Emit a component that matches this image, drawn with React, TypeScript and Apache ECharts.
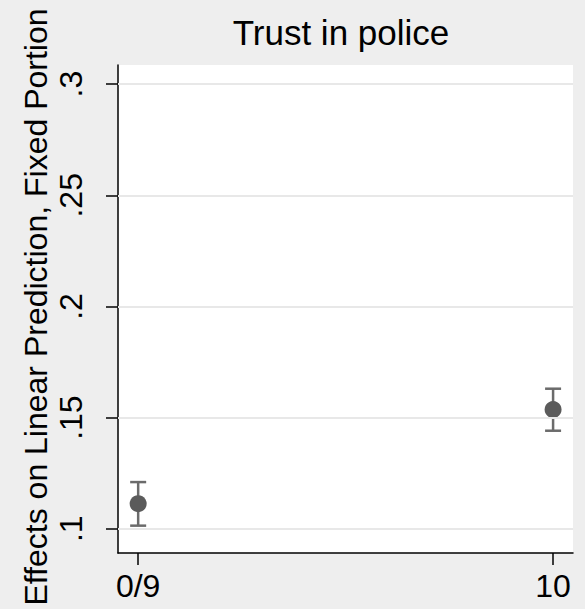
import React, { useEffect, useRef } from "react";
import * as echarts from "echarts";

const categories = ["0/9", "10"];
const estimates = [0.1113, 0.1536];
const lowerCI = [0.1014, 0.1441];
const upperCI = [0.121, 0.163];
const yTicks = [0.1, 0.15, 0.2, 0.25, 0.3];
const yTickLabels = [".1", ".15", ".2", ".25", ".3"];
const yTitle = "Effects on Linear Prediction, Fixed Portion";
const chartTitle = "Trust in police";

const FONT = '"Liberation Sans", Arial, Helvetica, sans-serif';

export default function App() {
  const ref = useRef<HTMLDivElement>(null);
  useEffect(() => {
    if (!ref.current) return;
    const chart = echarts.init(ref.current, undefined, { renderer: "svg" });
    const xIdx = categories.map((_, i) => i);
    chart.setOption({
      animation: false,
      backgroundColor: "#eeeeee",
      textStyle: { fontFamily: FONT },
      graphic: [
        {
          type: "text",
          x: 341,
          y: 32,
          style: {
            text: chartTitle,
            font: `35px ${FONT}`,
            fill: "#000",
            textAlign: "center",
            textVerticalAlign: "middle",
          },
        },
        {
          type: "text",
          x: 36,
          y: 307,
          rotation: Math.PI / 2,
          style: {
            text: yTitle,
            font: `32px ${FONT}`,
            fill: "#000",
            textAlign: "center",
            textVerticalAlign: "middle",
          },
        },
      ],
      grid: {
        left: 118,
        right: 12,
        top: 65,
        bottom: 56,
        show: true,
        backgroundColor: "#ffffff",
        borderWidth: 0,
        containLabel: false,
        outerBoundsMode: "none",
      },
      xAxis: {
        type: "value",
        min: -0.0486,
        max: 1.048,
        axisLine: { show: true, onZero: false, lineStyle: { color: "#000", width: 1.5 } },
        axisTick: { show: true, length: 12, customValues: xIdx, lineStyle: { color: "#000", width: 1.5 } },
        axisLabel: {
          customValues: xIdx,
          formatter: (v: number) => categories[Math.round(v)] ?? "",
          fontSize: 32,
          color: "#000",
          margin: 17,
          fontFamily: FONT,
        },
        splitLine: { show: false },
      },
      yAxis: {
        type: "value",
        min: 0.0891,
        max: 0.3086,
        axisLine: { show: true, onZero: false, lineStyle: { color: "#000", width: 1.5 } },
        axisTick: { show: true, length: 12, customValues: yTicks, lineStyle: { color: "#000", width: 1.5 } },
        axisLabel: {
          customValues: yTicks,
          rotate: 90,
          formatter: (v: number) => {
            const i = yTicks.findIndex((t) => Math.abs(t - v) < 1e-6);
            return i >= 0 ? yTickLabels[i] : "";
          },
          fontSize: 32,
          color: "#000",
          margin: 31,
          fontFamily: FONT,
        },
        splitLine: { show: false },
      },
      series: [
        {
          type: "line",
          data: [],
          markLine: {
            silent: true,
            symbol: "none",
            label: { show: false },
            lineStyle: { color: "#e8e8e8", width: 2, type: "solid" },
            data: yTicks.map((t) => ({ yAxis: t })),
          },
        },
        {
          type: "custom",
          data: xIdx.map((x, i) => [x, lowerCI[i], upperCI[i]]),
          renderItem: (params: any, api: any) => {
            const x = api.value(0);
            const lo = api.coord([x, api.value(1)]);
            const hi = api.coord([x, api.value(2)]);
            const hw = 8;
            const style = { stroke: "#6b6b6b", lineWidth: 2.5 };
            return {
              type: "group",
              children: [
                { type: "line", shape: { x1: lo[0], y1: lo[1], x2: hi[0], y2: hi[1] }, style },
                { type: "line", shape: { x1: lo[0] - hw, y1: lo[1], x2: lo[0] + hw, y2: lo[1] }, style },
                { type: "line", shape: { x1: hi[0] - hw, y1: hi[1], x2: hi[0] + hw, y2: hi[1] }, style },
              ],
            };
          },
          z: 3,
        },
        {
          type: "scatter",
          data: xIdx.map((x, i) => [x, estimates[i]]),
          symbol: "circle",
          symbolSize: 17,
          itemStyle: { color: "#5b5b5b", opacity: 1 },
          z: 4,
        },
      ],
    });
    return () => chart.dispose();
  }, []);
  return (
    <div
      ref={ref}
      style={{ position: "fixed", left: 0, top: 0, width: 585, height: 609 }}
    />
  );
}
